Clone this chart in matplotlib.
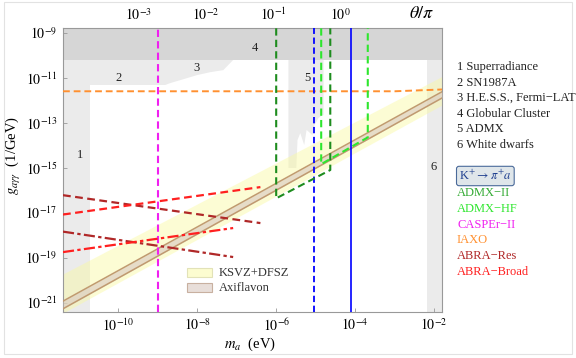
import numpy as np
import matplotlib
matplotlib.use("Agg")
import matplotlib.pyplot as plt
from matplotlib.patches import Rectangle

plt.rcParams["font.family"] = "serif"
plt.rcParams["font.serif"] = ["Liberation Serif", "DejaVu Serif"]
plt.rcParams["mathtext.fontset"] = "stix"

# axis limits (log10)
xlim_log = [-11.4, -1.8]
ylim_log = [-21.4, -8.8]

# excluded regions (log10 m_a, log10 g)
glob_m = [-11.4, -1.8, -1.8, -11.4]
glob_g = [-8.8, -8.8, -10.21, -10.21]
superrad_m = [-11.4, -10.72, -10.72, -11.4]
superrad_g = [-8.8, -8.8, -21.4, -21.4]
sn_hess_m = [-11.4, -8.81, -8.69, -8.0, -7.67, -7.34, -7.09, -11.4]
sn_hess_g = [-11.32, -11.32, -11.24, -10.88, -10.75, -10.66, -10.21, -10.21]
admx_m = [-5.69, -5.69, -5.49, -5.46, -5.39, -5.29, -5.23, -5.08, -5.03, -4.93, -4.83, -4.80, -4.80]
admx_g = [-10.21, -15.01, -15.01, -13.77, -13.46, -13.99, -13.32, -13.55, -13.10, -12.79, -12.66, -12.66, -10.21]
wd_m = [-2.17, -1.8, -1.8, -2.17]
wd_g = [-10.21, -10.21, -21.4, -21.4]

# QCD axion bands
band_m = [-11.4, -1.8]
ksvz_hi = [-19.72, -10.94]
ksvz_lo = [-21.46, -12.21]
axiflavon_hi = [-20.93, -11.62]
axiflavon_lo = [-21.27, -11.90]

# projected sensitivities
iaxo_m = [-11.4, -3.0, -1.8]
iaxo_g = [-11.60, -11.60, -11.52]
casper_m = -9.0
kpi_dashed_m = -5.03
kpi_solid_m = -4.1
admx2_m = [-6.0, -6.0, -4.63, -4.63]
admx2_g = [-8.8, -16.36, -15.10, -8.8]
admxhf_m = [-4.86, -4.86, -3.68, -3.68]
admxhf_g = [-8.8, -14.84, -13.65, -8.8]
abra_res_dash_m = [-11.4, -6.40]
abra_res_dash_g = [-16.22, -17.46]
abra_broad_dash_m = [-11.4, -6.40]
abra_broad_dash_g = [-17.08, -15.86]
abra_res_dd_m = [-11.4, -7.09]
abra_res_dd_g = [-17.84, -18.97]
abra_broad_dd_m = [-11.4, -7.09]
abra_broad_dd_g = [-18.75, -17.68]

region_labels = ["1", "2", "3", "4", "5", "6"]
region_label_m = [-10.97, -10.0, -8.03, -6.53, -5.21, -2.01]
region_label_g = [-14.44, -11.01, -10.57, -9.68, -11.01, -14.97]

side_labels = ["1 Superradiance", "2 SN1987A", "3 H.E.S.S., Fermi\u2212LAT",
               "4 Globular Cluster", "5 ADMX", "6 White dwarfs"]
exp_labels = ["ADMX\u2212II", "ADMX\u2212HF", "CASPEr\u2212II", "IAXO",
              "ABRA\u2212Res", "ABRA\u2212Broad"]

c_admx2 = "#1e8c1e"
c_admxhf = "#2ee62e"
c_casper = "#f020f0"
c_iaxo = "#ff9030"
c_abra_res = "#b02828"
c_abra_broad = "#ff2020"
exp_colors = ["#33aa33", c_admxhf, c_casper, c_iaxo, c_abra_res, c_abra_broad]


def p(v):
    return 10.0 ** np.asarray(v, dtype=float)


fig = plt.figure(figsize=(5.76, 3.58), dpi=100)
ax = fig.add_axes([63 / 576, 1 - 311.7 / 358, 379 / 576, 283.4 / 358])
ax.set_xscale("log")
ax.set_yscale("log")
ax.set_xlim(p(xlim_log))
ax.set_ylim(p(ylim_log))

light = "#ebebeb"
dark = "#d6d6d6"
ax.fill(p(superrad_m), p(superrad_g), color=light, lw=0, zorder=1)
ax.fill(p(sn_hess_m), p(sn_hess_g), color=light, lw=0, zorder=1)
ax.fill(p(admx_m), p(admx_g), color=light, lw=0, zorder=1)
ax.fill(p(wd_m), p(wd_g), color=light, lw=0, zorder=1)
ax.fill(p(glob_m), p(glob_g), color=dark, lw=0, zorder=1)

# bands
ax.fill_between(p(band_m), p(ksvz_lo), p(ksvz_hi), color="#fafaa0", alpha=0.45, lw=0, zorder=2)
ax.fill_between(p(band_m), p(axiflavon_lo), p(axiflavon_hi), color="#d8c8c0", alpha=0.6, lw=0, zorder=3)
ax.plot(p(band_m), p(axiflavon_hi), color="#c09a70", lw=1.1, zorder=4)
ax.plot(p(band_m), p(axiflavon_lo), color="#c09a70", lw=1.1, zorder=4)

dash = (0, (3.5, 2))
ddot = (0, (5, 1.5, 1.5, 1.5))
ax.plot(p(iaxo_m), p(iaxo_g), color=c_iaxo, lw=1.4, ls=dash, zorder=5)
ax.axvline(10 ** casper_m, color=c_casper, lw=1.5, ls=dash, zorder=5)
ax.axvline(10 ** kpi_dashed_m, color="#0000ff", lw=1.3, ls=dash, zorder=5)
ax.axvline(10 ** kpi_solid_m, color="#0000ff", lw=1.2, zorder=5)
ax.plot(p(admx2_m), p(admx2_g), color=c_admx2, lw=1.5, ls=dash, zorder=5)
ax.plot(p(admxhf_m), p(admxhf_g), color=c_admxhf, lw=1.5, ls=dash, zorder=5)
ax.plot(p(abra_res_dash_m), p(abra_res_dash_g), color=c_abra_res, lw=1.6, ls=dash, zorder=5)
ax.plot(p(abra_broad_dash_m), p(abra_broad_dash_g), color=c_abra_broad, lw=1.6, ls=dash, zorder=5)
ax.plot(p(abra_res_dd_m), p(abra_res_dd_g), color=c_abra_res, lw=1.6, ls=ddot, zorder=5)
ax.plot(p(abra_broad_dd_m), p(abra_broad_dd_g), color=c_abra_broad, lw=1.6, ls=ddot, zorder=5)

for lab, m, g in zip(region_labels, region_label_m, region_label_g):
    ax.text(10 ** m, 10 ** g, lab, fontsize=9, ha="center", va="center", color="#222222", zorder=6)

# in-plot legend for the bands
ax.add_patch(Rectangle((0.327, 0.123), 0.066, 0.03, transform=ax.transAxes,
                       facecolor="#fcfcd0", edgecolor="#e2e2b8", lw=0.8, zorder=6))
ax.add_patch(Rectangle((0.327, 0.070), 0.066, 0.03, transform=ax.transAxes,
                       facecolor="#e8ded9", edgecolor="#c8b0a0", lw=0.8, zorder=6))
ax.text(0.41, 0.138, "KSVZ+DFSZ", transform=ax.transAxes, fontsize=9, va="center", color="#333333", zorder=6)
ax.text(0.41, 0.085, "Axiflavon", transform=ax.transAxes, fontsize=9, va="center", color="#333333", zorder=6)

# ticks
xt = [-10, -8, -6, -4, -2]
yt = [-21, -19, -17, -15, -13, -11, -9]
ax.set_xticks(p(xt))
ax.set_xticklabels([r"$10^{%d}$" % v for v in xt])
ax.set_yticks(p(yt))
ax.set_yticklabels([r"$10^{%d}$" % v for v in yt])
ax.minorticks_off()
ax.tick_params(direction="in", length=3, width=0.6, color="#999999", labelsize=10, pad=4)
for s in ax.spines.values():
    s.set_color("#999999")
    s.set_linewidth(0.8)

# top axis: theta/pi
b, a = 0.586, 4.37
top = ax.secondary_xaxis("top", functions=(lambda m: 10 ** (b * (np.log10(m) + a)),
                                          lambda t: 10 ** (np.log10(t) / b - a)))
tt = [-3, -2, -1, 0]
top.set_xticks(p(tt))
top.set_xticklabels([r"$10^{%d}$" % v for v in tt])
top.minorticks_off()
top.tick_params(direction="in", length=3, width=0.6, color="#999999", labelsize=10, pad=4)
top.spines["top"].set_visible(False)
fig.text(422 / 576, 1 - 14 / 358, r"$\theta/\pi$", fontsize=13, ha="center", va="center")

ax.set_xlabel(r"$m_a$  (eV)", fontsize=10.5)
ax.xaxis.set_label_coords(0.493, -0.083)
ax.set_ylabel(r"$g_{a\gamma\gamma}$  (1/GeV)", fontsize=10.5)
ax.yaxis.set_label_coords(-0.105, 0.55)

# side labels
for i, s in enumerate(side_labels):
    fig.text(457 / 576, 1 - (67 + 15.6 * i) / 358, s, fontsize=9, va="center", color="#222222")
fig.text(459 / 576, 1 - 176 / 358, r"K$^{+}\rightarrow\pi^{+}a$", fontsize=9, va="center",
         color="#1f3f8f", bbox=dict(boxstyle="round,pad=0.2", fc="#dfe6ea", ec="#4a6a9a", lw=0.8))
for i, (s, c) in enumerate(zip(exp_labels, exp_colors)):
    fig.text(457 / 576, 1 - (193 + 15.8 * i) / 358, s, fontsize=9, va="center", color=c)

fig.patches.append(Rectangle((0.007, 0.012), 0.986, 0.982, transform=fig.transFigure,
                             fill=False, edgecolor="#e2e2e2", lw=0.8))

fig.savefig("out.png", dpi=100)
